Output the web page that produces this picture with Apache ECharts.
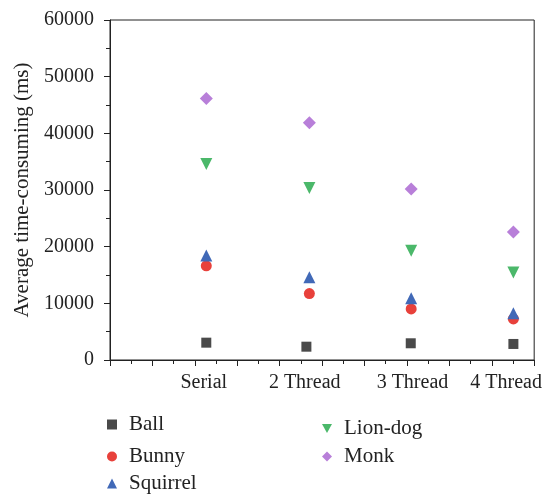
<!DOCTYPE html>
<html>
<head>
<meta charset="utf-8">
<script src="https://cdn.jsdelivr.net/npm/echarts@6/dist/echarts.min.js"></script>
<style>
  html, body { margin: 0; padding: 0; background: #fff; }
  #chart { width: 545px; height: 495px; }
</style>
</head>
<body>
<div id="chart"></div>
<script>
// x positions of the groups on the 0..10 axis, and where their labels sit
const categories = ['Serial', '2 Thread', '3 Thread', '4 Thread']
const labelPos = [2.21, 4.59, 7.13, 9.34]
const ballX = [2.27, 4.63, 7.09, 9.51]
const groupX = [2.27, 4.7, 7.1, 9.51]

const ball = [3060, 2350, 2950, 2830]
const bunny = [16620, 11730, 9020, 7250]
const squirrel = [18440, 14620, 10910, 8260]
const lionDog = [34610, 30360, 19270, 15440]
const monk = [46150, 41860, 30190, 22580]

const font = 'Liberation Serif'
const chartInstance = echarts.init(document.getElementById('chart'))

const pts = (xs, ys) => ys.map((v, i) => [xs[i], v])

// one legend per entry so each sits where the reference has it
const legendItem = (name, left, top, icon) => ({
  data: [icon ? { name: name, icon: icon } : name],
  left: left,
  top: top,
  itemWidth: 10,
  itemHeight: 10,
  textStyle: { fontFamily: font, fontSize: 21, color: '#222', padding: [0, 0, 0, 7] }
})

const option = {
  animation: false,
  textStyle: { fontFamily: font },
  grid: {
    left: 110,
    right: 10,
    top: 20,
    bottom: 135,
    show: true,
    borderColor: '#222',
    borderWidth: 1
  },
  legend: [
    legendItem('Ball', 102, 409),
    legendItem('Bunny', 102, 441),
    legendItem('Squirrel', 102, 468),
    legendItem('Lion-dog', 317, 413, 'path://M0,0 L10,0 L5,9 Z'),
    legendItem('Monk', 317, 441)
  ],
  xAxis: {
    type: 'value',
    min: 0,
    max: 10,
    interval: 1,
    axisLine: { lineStyle: { color: '#222' } },
    axisTick: { length: 6, lineStyle: { color: '#222' } },
    minorTick: { show: true, splitNumber: 2, length: 4, lineStyle: { color: '#222' } },
    splitLine: { show: false },
    axisLabel: {
      customValues: labelPos,
      formatter: v => {
        const i = labelPos.findIndex(p => Math.abs(p - v) < 1e-6)
        return i >= 0 ? categories[i] : ''
      },
      margin: 13,
      fontFamily: font,
      fontSize: 20,
      color: '#222'
    }
  },
  yAxis: {
    type: 'value',
    min: 0,
    max: 60000,
    interval: 10000,
    name: 'Average time-consuming (ms)',
    nameLocation: 'middle',
    nameGap: 77,
    nameTextStyle: { fontFamily: font, fontSize: 21, color: '#222' },
    axisLine: { show: true, lineStyle: { color: '#222' } },
    axisTick: { show: true, length: 6, lineStyle: { color: '#222' } },
    minorTick: { show: true, splitNumber: 2, length: 4, lineStyle: { color: '#222' } },
    splitLine: { show: false },
    axisLabel: { margin: 16, fontFamily: font, fontSize: 20, color: '#222', formatter: v => String(v) }
  },
  series: [
    {
      name: 'Ball',
      type: 'scatter',
      symbol: 'rect',
      symbolSize: 10,
      itemStyle: { color: '#4a4a4a', opacity: 1 },
      data: pts(ballX, ball)
    },
    {
      name: 'Bunny',
      type: 'scatter',
      symbol: 'circle',
      symbolSize: 11,
      itemStyle: { color: '#e8413b', opacity: 1 },
      data: pts(groupX, bunny)
    },
    {
      name: 'Squirrel',
      type: 'scatter',
      symbol: 'triangle',
      symbolSize: 12,
      itemStyle: { color: '#4169b7', opacity: 1 },
      data: pts(groupX, squirrel)
    },
    {
      name: 'Lion-dog',
      type: 'scatter',
      symbol: 'triangle',
      symbolRotate: 180,
      symbolSize: 12,
      itemStyle: { color: '#4bb86a', opacity: 1 },
      data: pts(groupX, lionDog)
    },
    {
      name: 'Monk',
      type: 'scatter',
      symbol: 'diamond',
      symbolSize: 13,
      itemStyle: { color: '#b87fd9', opacity: 1 },
      data: pts(groupX, monk)
    }
  ]
}
chartInstance.setOption(option)
</script>
</body>
</html>
